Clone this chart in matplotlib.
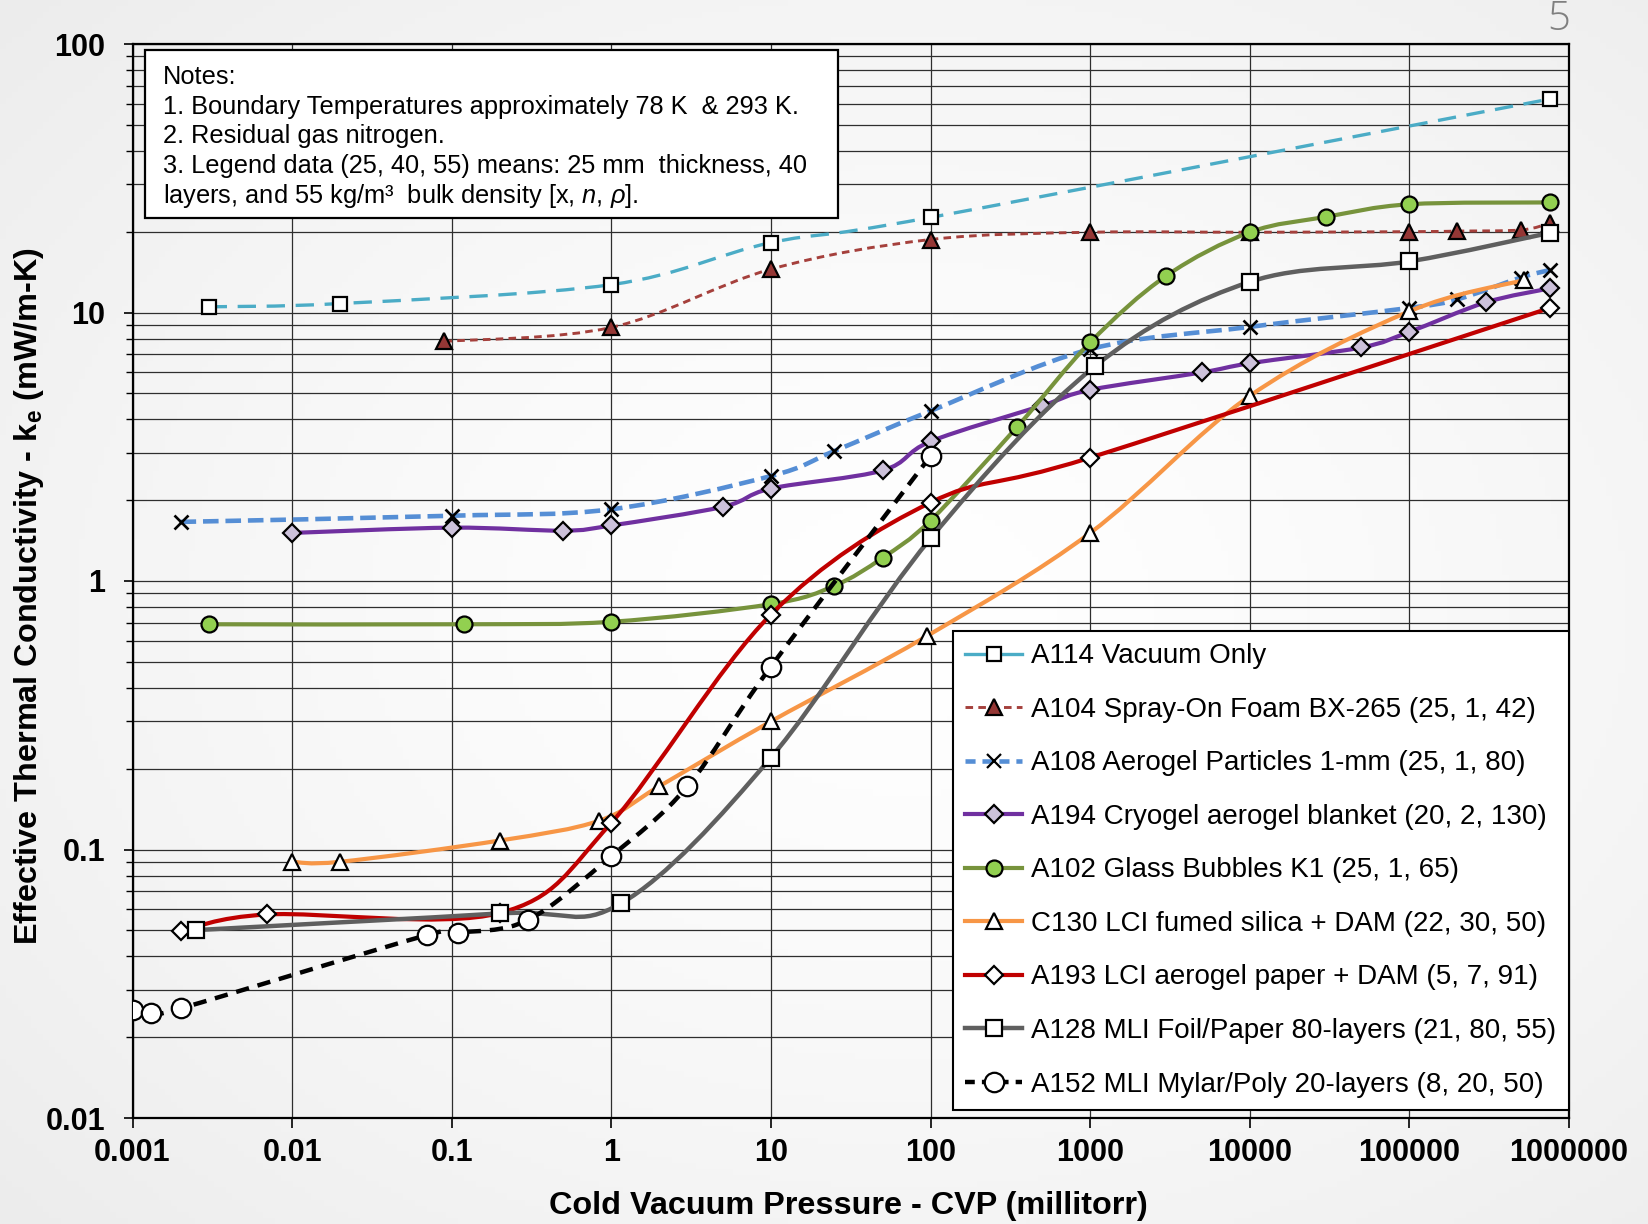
import numpy as np
import matplotlib
matplotlib.use('Agg')
from matplotlib import pyplot as plt
from matplotlib.path import Path
from matplotlib.patches import PathPatch, Rectangle
from matplotlib.lines import Line2D
from matplotlib.ticker import LogLocator, NullFormatter, NullLocator

plt.rcParams['font.family'] = ['Liberation Sans', 'DejaVu Sans']
plt.rcParams['mathtext.fontset'] = 'custom'
plt.rcParams['mathtext.rm'] = 'Liberation Sans'
plt.rcParams['mathtext.it'] = 'Liberation Sans:italic'
plt.rcParams['mathtext.bf'] = 'Liberation Sans:bold'

# ---- data (pressure in millitorr, k_e in mW/m-K) ----
a114_x = [0.003, 0.02, 1, 10, 100, 760000]
a114_y = [10.5, 10.8, 12.7, 18.2, 22.6, 62.4]

a104_x = [0.09, 1, 10, 100, 1000, 10000, 100000, 200000, 500000, 760000]
a104_y = [7.8, 8.8, 14.5, 18.7, 19.9, 19.9, 20.0, 20.1, 20.3, 21.5]

a108_x = [0.002, 0.1, 1, 10, 25, 100, 1000, 10000, 100000, 200000, 500000, 760000]
a108_y = [1.66, 1.75, 1.85, 2.46, 3.05, 4.30, 7.3, 8.84, 10.4, 11.2, 13.5, 14.4]

a194_x = [0.01, 0.1, 0.5, 1, 5, 10, 50, 100, 500, 1000, 5000, 10000, 50000, 100000, 300000, 760000]
a194_y = [1.51, 1.58, 1.54, 1.61, 1.89, 2.21, 2.58, 3.31, 4.5, 5.15, 5.98, 6.47, 7.41, 8.47, 10.9, 12.3]

a102_x = [0.003, 0.12, 1, 10, 25, 50, 100, 350, 1000, 3000, 10000, 30000, 100000, 760000]
a102_y = [0.69, 0.69, 0.705, 0.82, 0.96, 1.22, 1.68, 3.76, 7.74, 13.7, 19.9, 22.7, 25.3, 25.7]

c130_x = [0.01, 0.02, 0.2, 0.84, 2, 10, 95, 1000, 10000, 100000, 520000]
c130_y = [0.090, 0.090, 0.108, 0.128, 0.172, 0.30, 0.624, 1.51, 4.89, 10.1, 13.2]

a193_x = [0.002, 0.007, 0.2, 1, 10, 100, 1000, 760000]
a193_y = [0.0497, 0.0573, 0.058, 0.1257, 0.75, 1.96, 2.88, 10.4]

a128_x = [0.0025, 0.2, 1.15, 10, 100, 1070, 10000, 100000, 760000]
a128_y = [0.0501, 0.0578, 0.063, 0.22, 1.44, 6.3, 13.0, 15.5, 19.8]

a152_x = [0.001, 0.0013, 0.002, 0.07, 0.11, 0.3, 1, 3, 10, 100]
a152_y = [0.0253, 0.0247, 0.0256, 0.048, 0.049, 0.0546, 0.0945, 0.172, 0.48, 2.92]

labels = ['A114 Vacuum Only',
          'A104 Spray-On Foam BX-265 (25, 1, 42)',
          'A108 Aerogel Particles 1-mm (25, 1, 80)',
          'A194 Cryogel aerogel blanket (20, 2, 130)',
          'A102 Glass Bubbles K1 (25, 1, 65)',
          'C130 LCI fumed silica + DAM (22, 30, 50)',
          'A193 LCI aerogel paper + DAM (5, 7, 91)',
          'A128 MLI Foil/Paper 80-layers (21, 80, 55)',
          'A152 MLI Mylar/Poly 20-layers (8, 20, 50)']

x_ticks = [0.001, 0.01, 0.1, 1, 10, 100, 1000, 10000, 100000, 1000000]
x_tick_labels = ['0.001', '0.01', '0.1', '1', '10', '100', '1000', '10000', '100000', '1000000']
y_ticks = [0.01, 0.1, 1, 10, 100]
y_tick_labels = ['0.01', '0.1', '1', '10', '100']

notes = ['Notes:',
         '1. Boundary Temperatures approximately 78 K  & 293 K.',
         '2. Residual gas nitrogen.',
         '3. Legend data (25, 40, 55) means: 25 mm  thickness, 40',
         'layers, and 55 kg/m\u00b3  bulk density [x, $n$, $\\rho$].']

# style per series: line color, width, dash, legend dash, marker, size, face
styles = [
    dict(c='#4bacc6', lw=2.4, ls=(0, (5.5, 3.2)), lls='-', m='s', ms=10.5, mfc='white'),
    dict(c='#a5403c', lw=2.1, ls=(0, (2.6, 1.8)), lls=(0, (2.6, 1.8)), m='^', ms=11, mfc='#953735'),
    dict(c='#558ed5', lw=3.3, ls=(0, (3.4, 1.5)), lls=(0, (2.2, 1.5)), m='x', ms=10, mfc='black'),
    dict(c='#7030a0', lw=3.0, ls='-', lls='-', m='D', ms=9, mfc='#ccc1da'),
    dict(c='#77933c', lw=3.0, ls='-', lls='-', m='o', ms=11.5, mfc='#92d050'),
    dict(c='#f79646', lw=3.0, ls='-', lls='-', m='^', ms=11, mfc='white'),
    dict(c='#c00000', lw=3.0, ls='-', lls='-', m='D', ms=9, mfc='white'),
    dict(c='#5f5f5f', lw=3.2, ls='-', lls='-', m='s', ms=12, mfc='white'),
    dict(c='black', lw=3.2, ls=(0, (3, 2)), lls=(0, (2.2, 1.6)), m='o', ms=14, mfc='white'),
]
series = [(a114_x, a114_y), (a104_x, a104_y), (a108_x, a108_y), (a194_x, a194_y),
          (a102_x, a102_y), (c130_x, c130_y), (a193_x, a193_y), (a128_x, a128_y),
          (a152_x, a152_y)]


def smooth_path(xs, ys):
    # Excel-like smoothed line: cubic Bezier through the points (log-log space)
    p = np.column_stack([np.log10(xs), np.log10(ys)])
    n = len(p)
    verts = [p[0]]
    codes = [Path.MOVETO]
    for i in range(n - 1):
        p0 = p[max(i - 1, 0)]
        p1 = p[i]
        p2 = p[i + 1]
        p3 = p[min(i + 2, n - 1)]
        verts += [p1 + (p2 - p0) / 6.0, p2 - (p3 - p1) / 6.0, p2]
        codes += [Path.CURVE4] * 3
    return Path(10 ** np.array(verts), codes)


fig = plt.figure(figsize=(16.49, 12.24), dpi=100)

# soft grey slide background
bg = fig.add_axes([0, 0, 1, 1], zorder=-10)
yy, xx = np.mgrid[0:1:200j, 0:1:270j]
r = np.clip(np.sqrt(((xx - 0.55) / 0.75) ** 2 + ((yy - 0.5) / 0.75) ** 2), 0, 1)
g = 1.0 - 0.075 * r ** 1.4
bg.imshow(np.dstack([g, g, g]), aspect='auto', extent=[0, 1, 0, 1])
bg.axis('off')

ax = fig.add_axes([132.5 / 1649, 1 - 1118 / 1224, 1436.5 / 1649, 1074 / 1224])
ax.set_facecolor('none')
ax.set_xscale('log')
ax.set_yscale('log')
ax.set_xlim(0.001, 1000000)
ax.set_ylim(0.01, 100)

handles = []
for i, ((xs, ys), st) in enumerate(zip(series, styles)):
    z = 3 + i
    patch = PathPatch(smooth_path(xs, ys), fill=False, edgecolor=st['c'], lw=st['lw'],
                      linestyle=st['ls'], capstyle='butt', joinstyle='round', zorder=z)
    ax.add_patch(patch)
    ax.plot(xs, ys, ls='none', marker=st['m'], ms=st['ms'], mfc=st['mfc'],
            mec='black', mew=1.6 if st['m'] != 'x' else 1.9, zorder=z + 0.5)
    handles.append(Line2D([], [], color=st['c'], lw=st['lw'], ls=st['lls'], marker=st['m'],
                          ms=st['ms'], mfc=st['mfc'], mec='black', mew=1.6))

# axes, ticks, grid
ax.set_xticks(x_ticks)
ax.set_xticklabels(x_tick_labels)
ax.xaxis.set_minor_locator(NullLocator())
ax.set_yticks(y_ticks)
ax.set_yticklabels(y_tick_labels)
ax.yaxis.set_minor_locator(LogLocator(base=10, subs=range(2, 10)))
ax.yaxis.set_minor_formatter(NullFormatter())
ax.grid(True, which='major', color='#2e2e2e', lw=0.9, zorder=1)
ax.grid(True, which='minor', axis='y', color='#2e2e2e', lw=0.9, zorder=1)
ax.set_axisbelow(True)
ax.tick_params(axis='x', which='major', direction='out', length=7, width=1.2, pad=7.5, labelsize=22)
ax.tick_params(axis='y', which='major', direction='out', length=6.5, width=1.2, pad=13, labelsize=22)
ax.tick_params(axis='y', which='minor', direction='out', length=5, width=1.0)
for lbl in ax.get_xticklabels() + ax.get_yticklabels():
    lbl.set_fontweight('bold')
for sp in ax.spines.values():
    sp.set_linewidth(1.6)
    sp.set_color('black')

ax.set_xlabel('Cold Vacuum Pressure - CVP (millitorr)', fontsize=23.3, fontweight='bold',
              va='center')
ax.xaxis.set_label_coords((848 - 132.5) / 1436.5, -(1206 - 1118) / 1074)
ax.set_ylabel('Effective Thermal Conductivity - k$_\\mathbf{e}$ (mW/m-K)', fontsize=23.3,
              fontweight='bold', va='center')
ax.yaxis.set_label_coords((29 - 132.5) / 1436.5, 1 - (596 - 44) / 1074)

leg = ax.legend(handles, labels, loc='upper left', bbox_to_anchor=(953 / 1649, 1 - 631 / 1224),
                bbox_transform=fig.transFigure, borderaxespad=0, fontsize=20,
                handlelength=2.05, handletextpad=0.32, labelspacing=0.99, borderpad=0.45,
                fancybox=False, framealpha=1, facecolor='white', edgecolor='black')
leg.get_frame().set_linewidth(1.5)
leg.set_zorder(20)

# notes box
fig.patches.append(Rectangle((145 / 1649, 1 - 218 / 1224), 693 / 1649, 168 / 1224,
                             transform=fig.transFigure, facecolor='white',
                             edgecolor='black', lw=1.6, zorder=20))
note_y = [77.5, 107, 135.5, 166, 195.5]
for txt, yp in zip(notes, note_y):
    fig.text(163 / 1649, 1 - yp / 1224, txt, fontsize=18.3, ha='left', va='center', zorder=21)

fig.text(1559 / 1649, 1 - 20 / 1224, '5', fontsize=29, color='#808080', ha='center',
         va='center', family=['Open Sans', 'DejaVu Sans'], fontweight='light')

fig.savefig('out.png', dpi=100, facecolor=fig.get_facecolor())
